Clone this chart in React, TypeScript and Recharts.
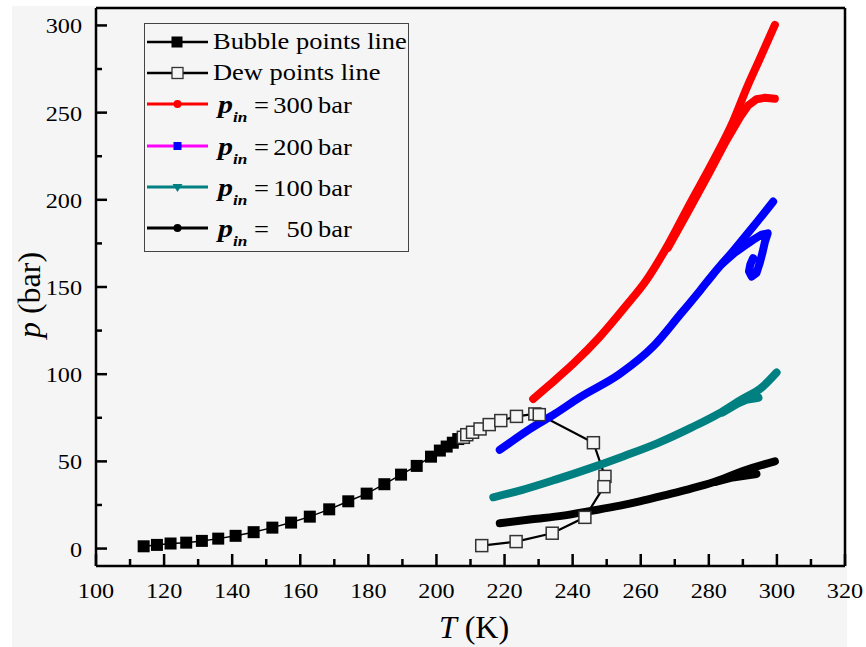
import { LineChart, Line, XAxis, YAxis, ReferenceLine } from 'recharts';

const FONT = "'Liberation Serif', 'Times New Roman', serif";
const BG = '#f5f5f5';

// axes
const xDomain = [100, 320];
const yDomain = [-10, 310];
const xTicks = [100, 110, 120, 130, 140, 150, 160, 170, 180, 190, 200, 210, 220, 230, 240, 250, 260, 270, 280, 290, 300, 310, 320];
const yTicks = [0, 25, 50, 75, 100, 125, 150, 175, 200, 225, 250, 275, 300];

// [T (K), p (bar)]
const bubblePoints = [
  [114.0, 1.3], [117.9, 2.1], [121.9, 2.9], [126.5, 3.4], [131.1, 4.4], [135.9, 5.7],
  [141.0, 7.3], [146.3, 9.4], [151.8, 12.0], [157.3, 14.9], [162.8, 18.3], [168.5, 22.5],
  [174.1, 27.1], [179.5, 31.5], [184.7, 36.9], [189.6, 42.4], [194.2, 47.4], [198.4, 52.7],
  [201.0, 56.2], [203.0, 58.5], [204.8, 60.7], [206.4, 62.8],
];
const dewPoints = [
  [207.9, 63.8], [208.9, 65.3], [210.6, 66.7], [212.8, 68.6], [215.5, 71.1], [218.9, 73.4],
  [223.5, 75.8], [228.9, 77.2], [230.2, 76.8], [246.1, 60.7], [249.5, 41.4], [249.2, 35.5],
  [243.6, 17.9], [234.0, 8.8], [223.4, 4.0], [213.3, 1.7],
];
const p300Main = [
  [228.4, 85.8], [233, 93.5], [240.2, 106], [248, 121.5], [255.8, 139.5], [261.7, 154],
  [267.1, 171], [274.5, 198], [281.3, 222.3], [287.2, 245.3], [291.1, 264], [295, 281], [299.4, 300.3],
];
const p300Branch = [
  [268, 172.5], [274, 193.5], [280, 215], [285, 233.5], [289.2, 247.5], [291.5, 254],
  [294, 257.7], [296.5, 258.5], [299.4, 258],
];
const p200Main = [
  [218.6, 56.6], [227.5, 68.6], [235, 77.5], [242.1, 86.7], [253.8, 100.1], [263.7, 116],
  [271.5, 134], [277.4, 147.9], [281.3, 157.4], [287.2, 170.8], [293, 184.5], [298.9, 199],
];
const p200Branch = [
  [284, 163.5], [287.5, 169.5], [290, 173], [293, 177], [295.5, 180], [297.3, 180.8], [296.5, 176],
  [295.8, 170], [295, 164], [294, 158], [292.6, 156], [291.8, 159], [292.2, 163], [293, 166.5],
];
const p100Main = [
  [216.7, 29.4], [225, 33.5], [235, 39.5], [245, 46], [255, 53], [265, 60.5], [275, 69.5],
  [283, 77.5], [290, 86], [295, 91.5], [299.9, 101],
];
const p100Branch = [[284, 78], [288.5, 83.2], [291, 85.3], [294.6, 86.5]];
const p50Main = [
  [218.6, 14.5], [228, 16.8], [237.2, 18.9], [245, 21.5], [253.9, 24.6], [260, 27.2],
  [266.6, 30.4], [274, 34], [281.3, 38.0], [290, 44.5], [299.4, 50.0],
];
const p50Branch = [[282, 38.2], [287, 40.8], [294, 42.8]];

const rows = (pts: number[][]) => pts.map(([T, p]) => ({ T, p }));

const FilledSquare = (props: any) => {
  const { cx, cy, index } = props;
  if (cx == null || cy == null) return <g key={index} />;
  return <rect key={index} x={cx - 6} y={cy - 6} width={12} height={12} fill="#000" />;
};

const OpenSquare = (props: any) => {
  const { cx, cy, index } = props;
  if (cx == null || cy == null) return <g key={index} />;
  return (
    <rect key={index} x={cx - 6} y={cy - 6} width={12} height={12} fill={BG} stroke="#333" strokeWidth={1.5} />
  );
};

const XTick = ({ x, y, payload }: any) => {
  const major = payload.value % 20 === 0;
  return (
    <g>
      <line x1={x} x2={x} y1={y} y2={y - (major ? 12 : 7)} stroke="#000" strokeWidth={2.5} />
      {major && (
        <text
          transform={`translate(${x},${y + 32}) scale(1.1,1)`}
          textAnchor="middle"
          style={{ fontFamily: FONT, fontSize: 22 }}
          fill="#000"
        >
          {payload.value}
        </text>
      )}
    </g>
  );
};

const YTick = ({ x, y, payload }: any) => {
  const major = payload.value % 50 === 0;
  return (
    <g>
      <line x1={x} x2={x + (major ? 11 : 6)} y1={y} y2={y} stroke="#000" strokeWidth={2.5} />
      {major && (
        <text
          transform={`translate(${x - 14},${y + 8}) scale(1.1,1)`}
          textAnchor="end"
          style={{ fontFamily: FONT, fontSize: 22 }}
          fill="#000"
        >
          {payload.value}
        </text>
      )}
    </g>
  );
};

const bands = [
  { main: p300Main, branch: p300Branch, color: '#ff0000' },
  { main: p200Main, branch: p200Branch, color: '#0000ff' },
  { main: p100Main, branch: p100Branch, color: '#008080' },
  { main: p50Main, branch: p50Branch, color: '#000000' },
];

const LText = ({ x, y, size = 23, bold = false, children, anchor = 'start' }: any) => (
  <text
    transform={`translate(${x},${y}) scale(1.15,1)`}
    textAnchor={anchor}
    style={{
      fontFamily: FONT,
      fontSize: size,
      fontWeight: bold ? 'bold' : 'normal',
      fontStyle: bold ? 'italic' : 'normal',
    }}
    fill="#000"
  >
    {children}
  </text>
);

const PinLabel = ({ y, value }: { y: number; value: string }) => (
  <g>
    <LText x={218} y={y} size={26} bold>p</LText>
    <LText x={233} y={y + 9} size={15} bold>in</LText>
    <LText x={254} y={y}>=</LText>
    <LText x={313} y={y} anchor="end">{value}</LText>
    <LText x={318} y={y}>bar</LText>
  </g>
);

const Overlay = () => (
  <svg width={866} height={647} style={{ position: 'absolute', left: 0, top: 0, pointerEvents: 'none' }}>
    {/* legend */}
    <rect x={144.5} y={23.5} width={264} height={228} fill="none" stroke="#444" strokeWidth={1} />
    <line x1={147} x2={208} y1={42} y2={42} stroke="#000" strokeWidth={2.5} />
    <rect x={171.5} y={36.5} width={11} height={11} fill="#000" />
    <LText x={213} y={48.5}>Bubble points line</LText>

    <line x1={147} x2={208} y1={73} y2={73} stroke="#000" strokeWidth={2.5} />
    <rect x={172} y={67.5} width={11} height={11} fill={BG} stroke="#333" strokeWidth={1.3} />
    <LText x={213} y={80}>Dew points line</LText>

    <line x1={147} x2={208} y1={104} y2={104} stroke="#ff0000" strokeWidth={3} />
    <circle cx={177.5} cy={104} r={4} fill="#ff0000" />
    <PinLabel y={113} value="300" />

    <line x1={147} x2={208} y1={146} y2={146} stroke="#ff00ff" strokeWidth={3} />
    <rect x={173.5} y={142} width={8} height={8} fill="#0000ff" />
    <PinLabel y={155} value="200" />

    <line x1={147} x2={208} y1={187} y2={187} stroke="#008080" strokeWidth={3} />
    <path d="M172.5,184 L182.5,184 L177.5,192 Z" fill="#008080" />
    <PinLabel y={196} value="100" />

    <line x1={147} x2={208} y1={228} y2={228} stroke="#000" strokeWidth={3} />
    <circle cx={177.5} cy={228} r={4} fill="#000" />
    <PinLabel y={237} value="50" />

    {/* axis titles */}
    <text x={474} y={638} textAnchor="middle" style={{ fontFamily: FONT, fontSize: 32 }} fill="#000">
      <tspan style={{ fontStyle: 'italic' }}>T</tspan> (K)
    </text>
    <text transform="translate(40,295) rotate(-90)" textAnchor="middle" style={{ fontFamily: FONT, fontSize: 32 }} fill="#000">
      <tspan style={{ fontStyle: 'italic' }}>p</tspan> (bar)
    </text>
  </svg>
);

export default function App() {
  return (
    <div style={{ position: 'absolute', left: 0, top: 0, width: 866, height: 647, background: '#fff' }}>
      <div style={{ position: 'absolute', left: 12, top: 6, width: 835, height: 641, background: BG }} />
      <div style={{ position: 'absolute', left: 0, top: 0 }}>
        <LineChart width={866} height={647} margin={{ top: 8, right: 21, bottom: 0, left: 0 }}>
          <XAxis
            type="number"
            dataKey="T"
            domain={xDomain}
            ticks={xTicks}
            interval={0}
            allowDataOverflow
            height={81}
            tickSize={0}
            tickMargin={0}
            tickLine={false}
            tick={<XTick />}
            axisLine={{ stroke: '#000', strokeWidth: 2.5 }}
          />
          <YAxis
            type="number"
            dataKey="p"
            domain={yDomain}
            ticks={yTicks}
            interval={0}
            allowDataOverflow
            width={96}
            tickSize={0}
            tickMargin={0}
            tickLine={false}
            tick={<YTick />}
            axisLine={{ stroke: '#000', strokeWidth: 2.5 }}
          />
          <ReferenceLine x={320} stroke="#000" strokeWidth={2.5} />
          <ReferenceLine y={310} stroke="#000" strokeWidth={2.5} />

          <Line
            data={rows(bubblePoints)}
            dataKey="p"
            type="linear"
            stroke="#000"
            strokeWidth={1.5}
            dot={FilledSquare}
            activeDot={false}
            isAnimationActive={false}
          />
          <Line
            data={rows(dewPoints)}
            dataKey="p"
            type="linear"
            stroke="#000"
            strokeWidth={2.2}
            dot={OpenSquare}
            activeDot={false}
            isAnimationActive={false}
          />
          {bands.map((b, i) => [
            <Line
              key={`b${i}`}
              data={rows(b.branch)}
              dataKey="p"
              type="linear"
              stroke={b.color}
              strokeWidth={8}
              strokeLinecap="round"
              strokeLinejoin="round"
              dot={false}
              activeDot={false}
              isAnimationActive={false}
            />,
            <Line
              key={`m${i}`}
              data={rows(b.main)}
              dataKey="p"
              type="monotone"
              stroke={b.color}
              strokeWidth={8}
              strokeLinecap="round"
              strokeLinejoin="round"
              dot={false}
              activeDot={false}
              isAnimationActive={false}
            />,
          ])}
        </LineChart>
      </div>
      <Overlay />
    </div>
  );
}
